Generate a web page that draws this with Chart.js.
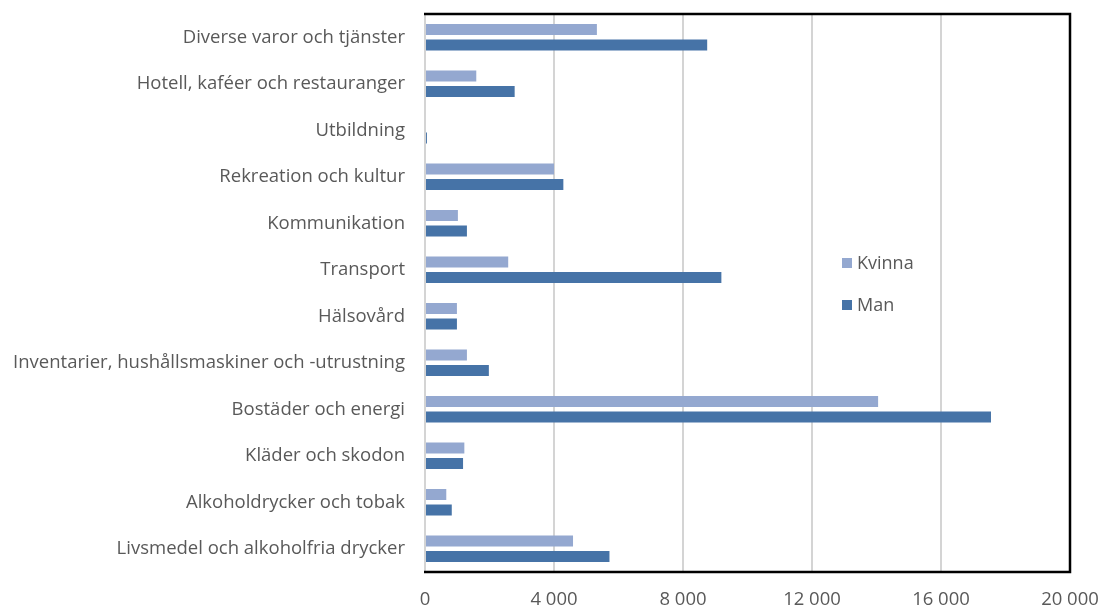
<!DOCTYPE html>
<html>
<head>
<meta charset="utf-8">
<script src="https://cdn.jsdelivr.net/npm/chart.js@4"></script>
<style>
  html, body { margin: 0; padding: 0; background: #fff; }
  #wrap { width: 1103px; height: 607px; position: relative; }
</style>
</head>
<body>
<div id="wrap"><canvas id="c" width="1103" height="607"></canvas></div>
<script>
const categories = [
  "Diverse varor och tjänster",
  "Hotell, kaféer och restauranger",
  "Utbildning",
  "Rekreation och kultur",
  "Kommunikation",
  "Transport",
  "Hälsovård",
  "Inventarier, hushållsmaskiner och -utrustning",
  "Bostäder och energi",
  "Kläder och skodon",
  "Alkoholdrycker och tobak",
  "Livsmedel och alkoholfria drycker"
];
const kvinna = [5330, 1590, 0, 4000, 1020, 2580, 990, 1300, 14050, 1220, 660, 4590];
const man    = [8750, 2780, 60, 4290, 1300, 9190, 990, 1980, 17550, 1180, 830, 5720];
const seriesNames = ["Kvinna", "Man"];
const xTicks = [0, 4000, 8000, 12000, 16000, 20000];
const xTickLabels = ["0", "4 000", "8 000", "12 000", "16 000", "20 000"];

const FONT = "'Open Sans', 'DejaVu Sans', sans-serif";
const TXT = "#595959";

const frame = {
  id: 'frame',
  afterDraw(chart) {
    const a = chart.chartArea, ctx = chart.ctx;
    ctx.save();
    ctx.strokeStyle = '#000';
    ctx.lineWidth = 2.5;
    ctx.beginPath();
    ctx.moveTo(a.left - 1, a.top);
    ctx.lineTo(a.right, a.top);
    ctx.lineTo(a.right, a.bottom);
    ctx.lineTo(a.left - 1, a.bottom);
    ctx.stroke();
    ctx.restore();
  }
};

const legendInside = {
  id: 'legendInside',
  afterDraw(chart) {
    const ctx = chart.ctx;
    ctx.save();
    ctx.font = "18px " + FONT;
    ctx.textBaseline = 'middle';
    const ys = [263, 305];
    chart.data.datasets.forEach((ds, i) => {
      ctx.fillStyle = ds.backgroundColor;
      ctx.fillRect(842, ys[i] - 5, 10, 10);
      ctx.fillStyle = TXT;
      ctx.fillText(ds.label, 857, ys[i] + 1);
    });
    ctx.restore();
  }
};

new Chart(document.getElementById('c'), {
  type: 'bar',
  data: {
    labels: categories,
    datasets: [
      { label: seriesNames[0], data: kvinna, backgroundColor: '#94A8D0' },
      { label: seriesNames[1], data: man, backgroundColor: '#4673A7' }
    ]
  },
  options: {
    indexAxis: 'y',
    responsive: false,
    animation: false,
    devicePixelRatio: 1,
    categoryPercentage: 0.667,
    barPercentage: 0.71,
    layout: { padding: { top: 14, right: 33, left: 0, bottom: 0 } },
    plugins: { legend: { display: false }, tooltip: { enabled: false } },
    scales: {
      x: {
        min: 0, max: 20000,
        afterBuildTicks(scale) { scale.ticks = xTicks.map(v => ({ value: v })); },
        ticks: {
          callback: (v) => xTickLabels[xTicks.indexOf(v)],
          color: TXT,
          font: { family: FONT, size: 18.5 },
          padding: 17,
          maxRotation: 0
        },
        grid: { color: '#d4d4d4', lineWidth: 2, drawTicks: false },
        border: { display: false },
        afterFit(scale) {
          scale.height = 35;
          scale.paddingLeft = 0; scale.paddingRight = 0;
          scale.paddingTop = 0; scale.paddingBottom = 0;
        }
      },
      y: {
        ticks: {
          color: TXT,
          font: { family: FONT, size: 18.5 },
          padding: 20
        },
        grid: { display: false, drawTicks: false },
        border: { display: false },
        afterFit(scale) {
          scale.width = 425;
          scale.paddingLeft = 0; scale.paddingRight = 0;
          scale.paddingTop = 0; scale.paddingBottom = 0;
        }
      }
    }
  },
  plugins: [frame, legendInside]
});
</script>
</body>
</html>
